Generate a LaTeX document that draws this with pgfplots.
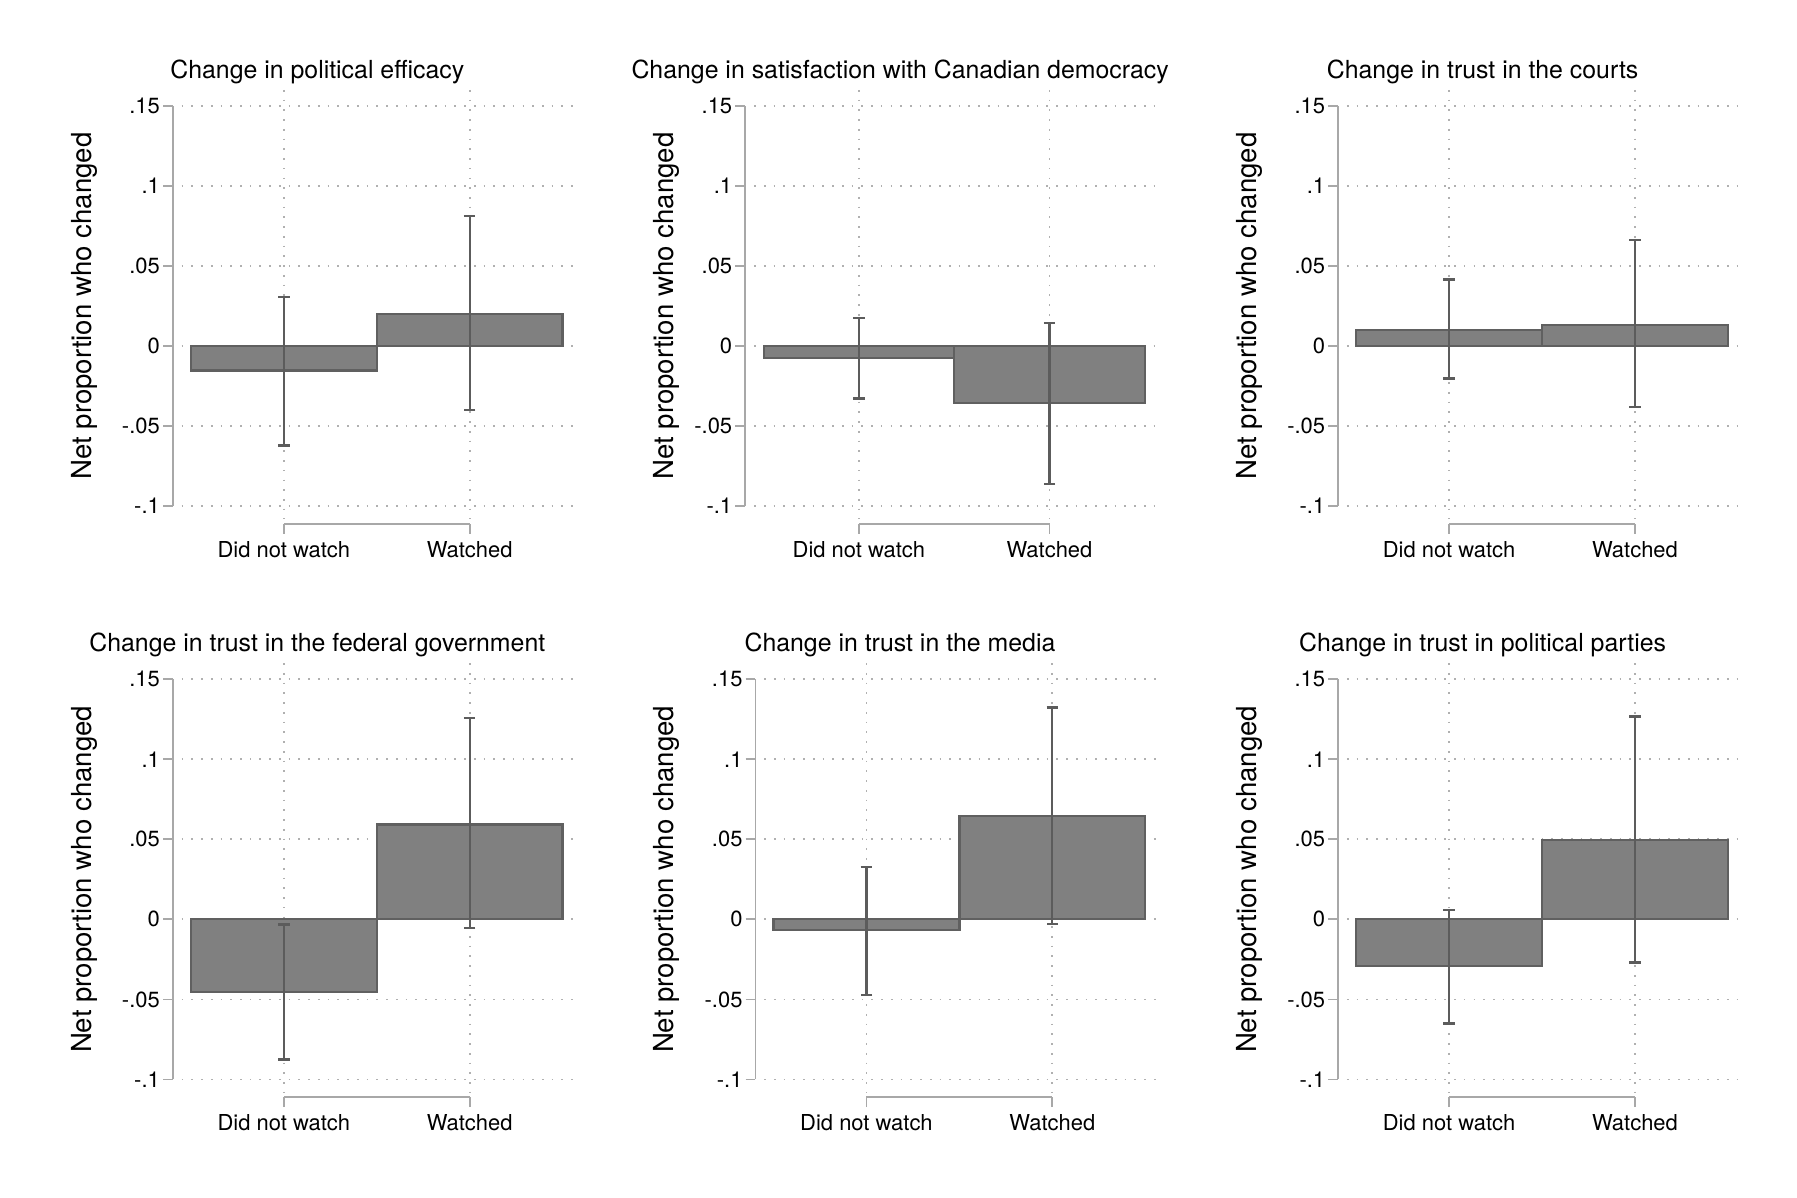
\documentclass[border=0pt]{standalone}
\usepackage{fontspec}
\setmainfont{TeX Gyre Heros}
\usepackage{pgfplots}
\usepackage{pgfplotstable}
\pgfplotsset{compat=1.18}

\definecolor{barfill}{HTML}{808080}
\definecolor{barline}{HTML}{606060}
\definecolor{errcol}{HTML}{5C5C5C}
\definecolor{axcol}{HTML}{A8A8A8}
\definecolor{gridcol}{HTML}{B0B0B0}

% x = 1 did not watch, 2 watched; m = net change, lo/hi = interval ends
\pgfplotstableread{
x m lo hi
1 -0.0153 -0.0621 0.0306
2 0.0201 -0.0399 0.0813
}\efficacy
\pgfplotstableread{
x m lo hi
1 -0.0074 -0.0329 0.0173
2 -0.0357 -0.0862 0.0144
}\satisf
\pgfplotstableread{
x m lo hi
1 0.0101 -0.0203 0.0416
2 0.0133 -0.0382 0.0663
}\courts
\pgfplotstableread{
x m lo hi
1 -0.0454 -0.0876 -0.0032
2 0.0593 -0.0055 0.1256
}\federal
\pgfplotstableread{
x m lo hi
1 -0.0068 -0.0473 0.0327
2 0.0644 -0.0027 0.1324
}\media
\pgfplotstableread{
x m lo hi
1 -0.0292 -0.0651 0.0057
2 0.0494 -0.0269 0.1267
}\parties

\tikzset{gridline/.style={gridcol, line width=0.3mm, dash pattern=on 0.3mm off 1.4mm}}

\pgfplotsset{
  panel/.style={
    anchor=south west, scale only axis,
    height=75.76mm,
    xmin=0.403, xmax=2.580, ymin=-0.1112, ymax=0.16,
    clip=false,
    axis line style={draw=none},
    xtick={1,2}, xticklabels={Did not watch, Watched},
    ytick={-0.1,-0.05,0,0.05,0.1,0.15},
    yticklabels={-.1,-.05,0,.05,.1,.15},
    tick align=outside, tick pos=left,
    major tick length=1.7mm,
    every tick/.style={draw=axcol, line width=0.3mm},
    ticklabel style={font=\fontsize{10.9}{13}\selectfont, inner sep=0pt},
    yticklabel style={anchor=east, xshift=-0.5mm},
    xticklabel style={anchor=base, yshift=-4.1mm},
    /pgf/number format/assume math mode=true,
    title style={anchor=base, yshift=-0.11mm,
      font=\fontsize{12.35}{15}\selectfont},
    ylabel={Net proportion who changed},
    ylabel style={anchor=center, font=\fontsize{13.7}{16}\selectfont},
  },
}

% #1 x, #2 y, #3 width, #4 ylabel offset, #5 title centre, #6 title, #7 table
\newcommand\panel[7]{%
  \begin{axis}[panel, at={(#1,#2)}, width=#3,
      ylabel style={at={(axis description cs:#4,0.502)}},
      title style={at={(#5,1)}}, title={#6}]
    \foreach \v in {-0.1,-0.05,0,0.05,0.1,0.15}{
      \edef\tmp{\noexpand\draw[gridline] (axis cs:0.45,\v) -- (axis cs:2.58,\v);}\tmp
    }
    \draw[gridline] (axis cs:1,0.16) -- (axis cs:1,-0.108);
    \draw[gridline] (axis cs:2,0.16) -- (axis cs:2,-0.108);
    \draw[axcol, line width=0.3mm] (axis cs:0.403,-0.1) -- (axis cs:0.403,0.15);
    \draw[axcol, line width=0.3mm] (axis cs:1,-0.1112) -- (axis cs:2,-0.1112);
    \addplot[ybar, bar width=1, fill=barfill, draw=barline, line width=0.4mm]
      table[x=x, y=m]{#7};
    \addplot[draw=none, mark=none,
      error bars/.cd, y dir=both, y explicit,
      error bar style={draw=errcol, solid, line width=0.4mm},
      error mark options={draw=errcol, solid, line width=0.4mm,
        mark size=1mm, rotate=90}]
      table[x=x, y=m, y error plus expr=\thisrow{hi}-\thisrow{m},
            y error minus expr=\thisrow{m}-\thisrow{lo}]{#7};
  \end{axis}%
}

\begin{document}
\begin{tikzpicture}
  \path[use as bounding box] (0,0) rectangle (313.6mm,208.9mm);
  \panel{30.16mm}{117.46mm}{70.62mm}{-0.2195}{0.357}{Change in political efficacy}{\efficacy}
  \panel{130.04mm}{117.46mm}{72.4mm}{-0.1892}{0.3735}{Change in satisfaction with Canadian democracy}{\satisf}
  \panel{233.52mm}{117.46mm}{70.62mm}{-0.2195}{0.357}{Change in trust in the courts}{\courts}
  \panel{30.16mm}{17.40mm}{70.62mm}{-0.2195}{0.357}{Change in trust in the federal government}{\federal}
  \panel{131.84mm}{17.40mm}{70.62mm}{-0.2195}{0.357}{Change in trust in the media}{\media}
  \panel{233.52mm}{17.40mm}{70.62mm}{-0.2195}{0.357}{Change in trust in political parties}{\parties}
\end{tikzpicture}
\end{document}
